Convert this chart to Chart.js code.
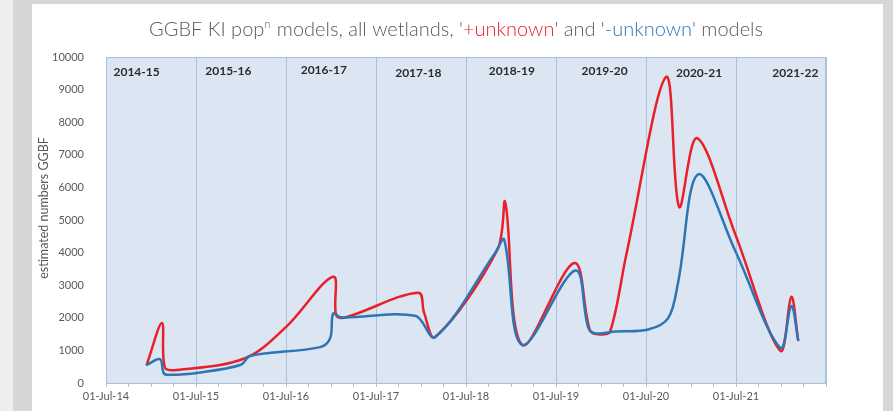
<!DOCTYPE html>
<html>
<head>
<meta charset="utf-8">
<script src="https://cdn.jsdelivr.net/npm/chart.js@4.4.1/dist/chart.umd.min.js"></script>
<style>
  html, body { margin: 0; padding: 0; }
  body { width: 893px; height: 411px; background: #d6d6d6; position: relative; overflow: hidden; }
  #edge { position: absolute; left: 0; top: 0; width: 13px; height: 411px; background: #eeeeee; }
  #card { position: absolute; left: 32px; top: 4px; width: 851px; height: 420px; background: #ffffff; }
  canvas { position: absolute; left: 0; top: 0; }
</style>
</head>
<body>
<div id="edge"></div>
<div id="card"></div>
<canvas id="ggbf" width="893" height="411"></canvas>
<script>
// x axis runs in years from 1 July 2014
const startDate = '2014-07-01';

// '+unknown' model
const redDates = [
  '2014-12-14', '2015-02-13', '2015-02-25', '2015-04-15', '2016-01-16',
  '2016-07-01', '2017-01-08', '2017-01-20', '2017-02-26', '2017-12-19',
  '2018-01-12', '2018-02-26', '2018-11-05', '2018-12-07', '2019-02-14',
  '2019-09-13', '2019-11-17', '2019-12-28', '2020-02-06', '2020-04-12',
  '2020-09-20', '2020-11-12', '2021-01-24', '2021-06-28', '2021-12-27',
  '2022-02-10', '2022-03-10'
];
const redValues = [
  580, 1840, 480, 400, 760,
  1720, 3260, 2080, 2010, 2770,
  2150, 1410, 4080, 5550, 1170,
  3680, 1600, 1490, 1580, 3950,
  9390, 5400, 7510, 4560, 990,
  2640, 1320
];

// '-unknown' model
const blueDates = [
  '2014-12-14', '2015-02-05', '2015-02-21', '2015-03-18', '2015-07-05',
  '2015-12-31', '2016-02-05', '2016-11-16', '2016-12-27', '2017-01-08',
  '2017-02-10', '2017-12-07', '2018-02-26', '2018-10-28', '2018-12-03',
  '2019-02-14', '2019-09-17', '2019-11-09', '2019-12-11', '2020-02-27',
  '2020-07-09', '2020-09-29', '2020-11-08', '2021-01-28', '2021-06-28',
  '2021-12-27', '2022-02-10', '2022-03-10'
];
const blueValues = [
  560, 730, 290, 250, 310,
  560, 830, 1100, 1380, 2130,
  2010, 2060, 1410, 4000, 4400,
  1170, 3450, 1700, 1520, 1580,
  1640, 2000, 3100, 6400, 4050,
  1080, 2360, 1320
];

const seasons = ['2014-15', '2015-16', '2016-17', '2017-18', '2018-19', '2019-20', '2020-21', '2021-22'];
const xTickLabels = ['01-Jul-14', '01-Jul-15', '01-Jul-16', '01-Jul-17', '01-Jul-18', '01-Jul-19', '01-Jul-20', '01-Jul-21'];

const RED = '#e8202a';
const BLUE = '#2e75b6';
const GREY = '#595959';

const toYears = d => (Date.parse(d) - Date.parse(startDate)) / (365.25 * 864e5);
const points = (dates, values) => dates.map((d, i) => ({ x: toYears(d), y: values[i] }));

// season text boxes: centre in years, offset below the top of the plot area
const seasonBoxes = [[0.34, 15], [1.36, 14], [2.42, 13], [3.47, 16], [4.51, 14], [5.54, 14], [6.59, 16], [7.66, 16]];

const decor = {
  id: 'decor',
  beforeDraw(chart) {
    const { ctx, chartArea: a } = chart;
    ctx.save();
    ctx.fillStyle = '#dce6f2';
    ctx.fillRect(a.left, a.top, a.right - a.left, a.bottom - a.top);
    ctx.restore();
  },
  afterDraw(chart) {
    const { ctx, chartArea: a, scales } = chart;
    ctx.save();

    // plot area frame
    ctx.strokeStyle = '#a9c1dd';
    ctx.lineWidth = 1;
    ctx.strokeRect(a.left + 0.5, a.top + 0.5, a.right - a.left - 1, a.bottom - a.top);

    // season names
    ctx.fillStyle = '#2b2b2b';
    ctx.font = 'bold 12px Lato';
    ctx.textAlign = 'center';
    ctx.textBaseline = 'middle';
    seasons.forEach((s, i) => {
      const [yr, dy] = seasonBoxes[i];
      ctx.fillText(s, scales.x.getPixelForValue(yr), a.top + dy);
    });

    // y axis title
    ctx.save();
    ctx.translate(44, 208);
    ctx.rotate(-Math.PI / 2);
    ctx.fillStyle = GREY;
    ctx.font = '12.5px Lato';
    ctx.fillText('estimated numbers GGBF', 0, 0);
    ctx.restore();

    // chart title with coloured model names
    const parts = [
      { t: 'GGBF KI pop', c: GREY },
      { t: 'n', c: GREY, sup: true },
      { t: ' models, all wetlands, \'', c: GREY },
      { t: '+unknown', c: RED },
      { t: '\' and \'', c: GREY },
      { t: '-unknown', c: BLUE },
      { t: '\' models', c: GREY }
    ];
    const big = '300 20px Lato';
    const small = '300 11px Lato';
    let total = 0;
    parts.forEach(p => {
      ctx.font = p.sup ? small : big;
      p.w = ctx.measureText(p.t).width + (p.sup ? 1 : 0);
      total += p.w;
    });
    let x = 456 - total / 2;
    ctx.textAlign = 'left';
    ctx.textBaseline = 'alphabetic';
    parts.forEach(p => {
      ctx.font = p.sup ? small : big;
      ctx.fillStyle = p.c;
      ctx.fillText(p.t, x, p.sup ? 28 : 36);
      x += p.w;
    });
    ctx.restore();
  }
};

new Chart(document.getElementById('ggbf'), {
  type: 'line',
  data: {
    datasets: [
      {
        label: '+unknown',
        data: points(redDates, redValues),
        borderColor: RED,
        order: 2
      },
      {
        label: '-unknown',
        data: points(blueDates, blueValues),
        borderColor: BLUE,
        order: 1
      }
    ]
  },
  options: {
    responsive: false,
    animation: false,
    events: [],
    layout: { padding: { left: 0, right: 67, top: 57, bottom: 0 } },
    elements: {
      point: { radius: 0 },
      line: { tension: 0.35, borderWidth: 2.5, borderCapStyle: 'round', borderJoinStyle: 'round', fill: false }
    },
    plugins: {
      legend: { display: false },
      tooltip: { enabled: false },
      title: { display: false }
    },
    scales: {
      x: {
        type: 'linear',
        min: 0,
        max: 8,
        ticks: {
          stepSize: 0.25,
          autoSkip: false,
          maxRotation: 0,
          padding: 3,
          color: GREY,
          font: { family: 'Lato', size: 11 },
          callback: v => Number.isInteger(v) ? (xTickLabels[v] || '') : ''
        },
        grid: {
          color: c => c.tick && Number.isInteger(c.tick.value) ? '#a9c1dd' : 'rgba(0,0,0,0)',
          tickColor: '#bfbfbf',
          tickLength: 4,
          lineWidth: 1
        },
        border: { color: '#bfbfbf' },
        afterFit: s => { s.height = 28; }
      },
      y: {
        min: 0,
        max: 10000,
        ticks: {
          stepSize: 1000,
          padding: 14,
          color: GREY,
          font: { family: 'Lato', size: 11 },
          callback: v => String(v)
        },
        grid: { display: false },
        border: { display: false },
        afterFit: s => { s.width = 106; }
      }
    }
  },
  plugins: [decor]
});
</script>
</body>
</html>
